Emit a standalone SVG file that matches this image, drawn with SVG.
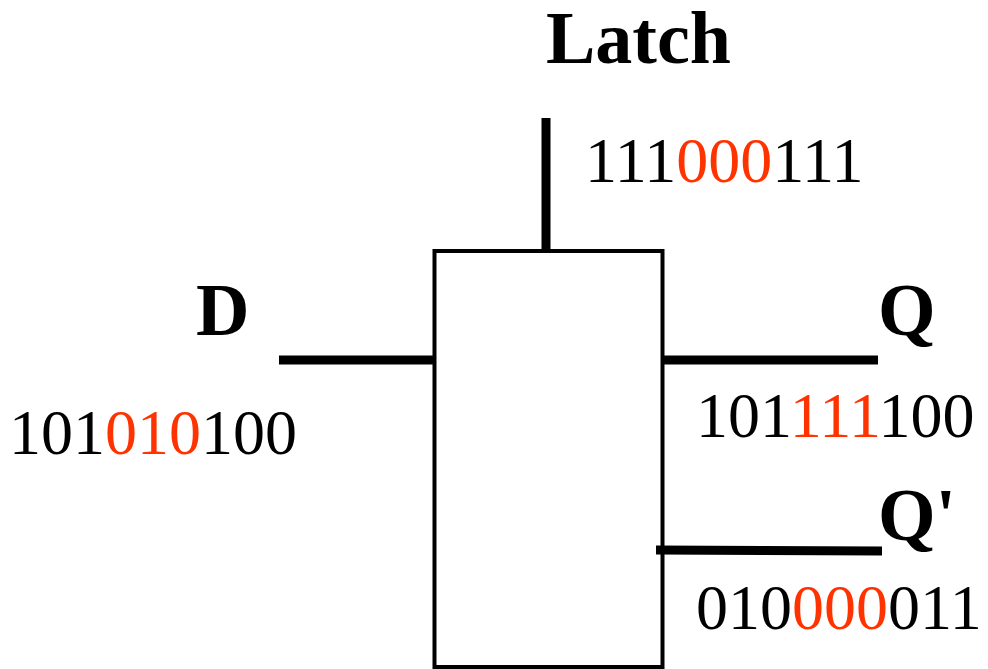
<svg xmlns="http://www.w3.org/2000/svg" width="988" height="669" viewBox="0 0 988 669">
  <style>
    .lbl { font-family: "Liberation Serif", "Times New Roman", serif; font-weight: bold; font-size: 74px; fill: #000; }
    .bits { font-family: "Liberation Serif", "Times New Roman", serif; font-size: 64px; fill: #000; }
    .hi { fill: #FF3300; }
    .wire { stroke: #000; stroke-width: 9; fill: none; }
    .box { stroke: #000; stroke-width: 4; fill: #fff; }
  </style>
  <rect width="988" height="669" fill="#fff"/>

  <!-- the latch block, drawn first so the wire stubs sit on top of its border -->
  <g id="latch">
    <rect class="box" x="434.5" y="251" width="228" height="416"/>
  </g>

  <g id="connectors">
    <line class="wire" x1="546" y1="118" x2="546" y2="251"/>
    <line class="wire" x1="279" y1="360" x2="434" y2="360"/>
    <line class="wire" x1="662" y1="360" x2="878" y2="360"/>
    <line class="wire" x1="656" y1="550" x2="882" y2="551"/>
  </g>

  <g id="latch-input">
    <text class="lbl" x="546" y="63" font-size="74">Latch</text>
    <text class="bits" x="585" y="182">111<tspan class="hi">000</tspan>111</text>
  </g>

  <g id="d-input">
    <text class="lbl" x="196" y="335">D</text>
    <text class="bits" x="9" y="454">101<tspan class="hi">010</tspan>100</text>
  </g>

  <g id="q-output">
    <text class="lbl" x="878" y="335">Q</text>
    <text class="bits" x="696" y="437">101<tspan class="hi">111</tspan>100</text>
  </g>

  <g id="qbar-output">
    <text class="lbl" x="878" y="540">Q'</text>
    <text class="bits" x="696" y="629">010<tspan class="hi">000</tspan>011</text>
  </g>
</svg>
